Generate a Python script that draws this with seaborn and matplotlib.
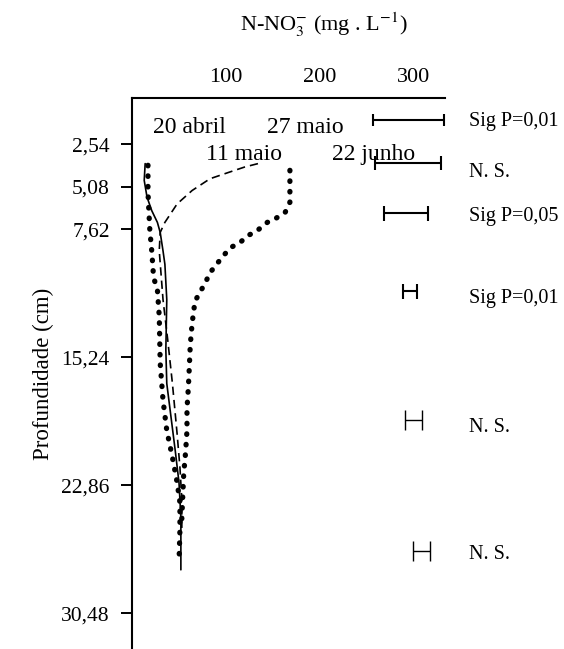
import pandas as pd
import seaborn as sns
import matplotlib.pyplot as plt

# N-NO3 (mg/L) vs depth (cm)
abril_x = [14, 13, 16, 21, 27, 30, 33, 35, 37, 36, 37, 41.5, 46, 50, 52, 52]
abril_y = [3.7, 4.7, 5.7, 6.5, 7.2, 7.8, 8.9, 9.7, 11.8, 14.8, 16.8, 18.8, 20.8, 22.7, 24.8, 27.9]

maio11_x = [134, 120, 104, 83, 64, 48, 35, 30, 29, 33, 38, 43, 48, 51, 53, 53]
maio11_y = [3.7, 3.9, 4.2, 4.6, 5.3, 6.1, 7.2, 7.8, 8.9, 11.8, 14.2, 16.8, 19.8, 21.8, 23.7, 25.5]

maio27_x = [168, 168, 163, 152, 144, 133, 123, 115, 105, 97, 90, 83, 78, 72, 67,
            64, 62, 61, 60, 58.5, 58.5, 57, 55, 54, 53, 53]
maio27_y = [4.1, 6.0, 6.6, 7.0, 7.2, 7.7, 8.0, 8.4, 8.7, 9.2, 9.7, 10.2, 10.8, 11.4, 11.9,
            13.2, 14.5, 15.8, 17.0, 18.3, 19.6, 20.9, 22.2, 23.5, 24.8, 25.4]

junho_x = [17, 17, 18, 19, 21, 23, 27, 29, 30, 33, 37, 43, 48, 51, 51, 50]
junho_y = [3.8, 5.4, 6.6, 7.7, 8.9, 10.5, 11.2, 12.8, 15.6, 17.8, 19.6, 21.2, 22.7, 23.9, 25.5, 27.5]

# significance bars (centre, half width, depth)
bar_x = [294, 294, 291.5, 295.5, 299.5, 308]
bar_half = [38, 35, 23.5, 7.5, 9, 9]
bar_y = [1.1, 3.66, 6.64, 11.3, 19.0, 26.8]
bar_labels = ['Sig P=0,01', 'N. S.', 'Sig P=0,05', 'Sig P=0,01', 'N. S.', 'N. S.']

dates = ['20 abril', '11 maio', '27 maio', '22 junho']
y_ticks = [2.54, 5.08, 7.62, 15.24, 22.86, 30.48]
y_ticklabels = ['2,54', '5,08', '7,62', '15,24', '22,86', '30,48']
x_ticks = [100, 200, 300]

sns.set_style('white')
plt.rcParams['font.family'] = ['Liberation Serif', 'DejaVu Serif']
plt.rcParams['mathtext.fontset'] = 'stix'
plt.rcParams.update({'text.color': 'black', 'axes.labelcolor': 'black',
                     'xtick.color': 'black', 'ytick.color': 'black',
                     'axes.edgecolor': 'black'})

fig = plt.figure(figsize=(5.64, 6.49), dpi=100)
ax = fig.add_axes([132 / 564, 0, 313 / 564, 551 / 649])

dot = (0, (0.1, 1.9))
series = [
    (abril_x, abril_y, dict(lw=1.2, linestyle='-')),
    (maio11_x, maio11_y, dict(lw=1.2, linestyle=(0, (5, 3)))),
    (maio27_x, maio27_y, dict(lw=3.8, linestyle=dot, dash_capstyle='round')),
    (junho_x, junho_y, dict(lw=3.8, linestyle=dot, dash_capstyle='round')),
]
for (x, y, kw), name in zip(series, dates):
    df = pd.DataFrame({'no3': x, 'depth': y})
    sns.lineplot(data=df, x='no3', y='depth', sort=False, estimator=None,
                 color='black', ax=ax, **kw)

caps = [4.3, 5, 5.4, 5.4, 7, 7]
widths = [1.5, 1.5, 1.5, 1.5, 1.0, 1.0]
lab_off = [0.36, 0.84, 0.48, 0.71, 0.72, 0.48]
for i in range(len(bar_x)):
    ax.errorbar(bar_x[i], bar_y[i], xerr=bar_half[i], fmt='none', ecolor='black',
                elinewidth=widths[i], capsize=caps[i], capthick=widths[i], clip_on=False)
    ax.text(359, bar_y[i] + lab_off[i], bar_labels[i], fontsize=14.5, ha='left',
            va='baseline', clip_on=False)

# date labels
date_pos = [(22, 1.88), (79, 3.49), (144, 1.88), (213, 3.49)]
for name, (tx, ty) in zip(dates, date_pos):
    ax.text(tx, ty, name, fontsize=17, ha='left', va='baseline')

ax.set_xlim(0, 333)
ax.set_ylim(32.62, -0.21)
ax.xaxis.tick_top()
ax.set_xticks(x_ticks)
ax.set_xticklabels([str(v) for v in x_ticks])
ax.tick_params(axis='x', top=True, bottom=False, length=0, pad=8, labelsize=16)
ax.set_yticks(y_ticks)
ax.set_yticklabels(y_ticklabels)
ax.tick_params(axis='y', left=True, direction='out', length=8, width=1.4,
               pad=8, labelsize=15.5)
ax.set_xlabel('')
ax.set_ylabel('Profundidade (cm)', fontsize=16.5)
ax.yaxis.set_label_coords(-0.25, 0.5)

for s in ['right', 'bottom']:
    ax.spines[s].set_visible(False)
for s in ['left', 'top']:
    ax.spines[s].set_linewidth(1.5)
    ax.spines[s].set_color('black')

fig.text(324 / 564, 1 - 25 / 649, r'N-NO$_3^{-}$ (mg . L$^{-1}$)',
         ha='center', va='center', fontsize=16)

fig.savefig('out.png', dpi=100)
